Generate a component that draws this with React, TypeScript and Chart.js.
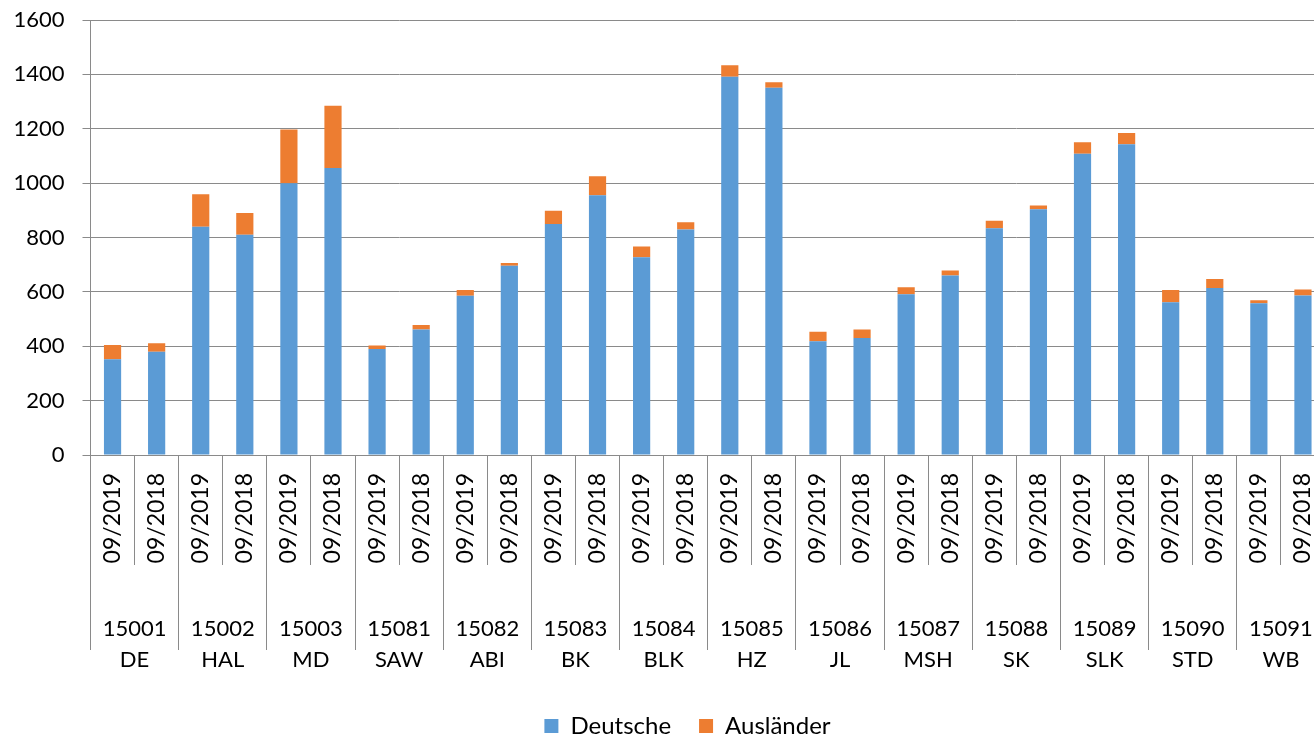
import React, { useEffect, useRef } from "react";
import { Chart, registerables } from "chart.js";

Chart.register(...registerables);

const periods = ["09/2019", "09/2018"];
const groupCodes = ["15001", "15002", "15003", "15081", "15082", "15083", "15084", "15085", "15086", "15087", "15088", "15089", "15090", "15091"];
const groupNames = ["DE", "HAL", "MD", "SAW", "ABI", "BK", "BLK", "HZ", "JL", "MSH", "SK", "SLK", "STD", "WB"];
const deutsche = [352, 380, 840, 810, 1000, 1056, 390, 462, 586, 696, 850, 955, 727, 829, 1391, 1351, 418, 430, 591, 660, 834, 904, 1108, 1143, 562, 614, 558, 587];
const auslaender = [53, 31, 119, 80, 197, 229, 13, 16, 21, 10, 48, 70, 40, 27, 43, 20, 35, 32, 26, 19, 28, 14, 42, 41, 45, 33, 11, 22];
const yMin = 0;
const yMax = 1600;
const yStep = 200;

const dateLabels = groupCodes.flatMap(() => periods);
const groupLabels = groupCodes.map((c, i) => [c, groupNames[i]]);

const FONT = "Lato, 'Open Sans', sans-serif";
const GRID = "#8a8a8a";

export default function App() {
  const ref = useRef<HTMLCanvasElement>(null);
  useEffect(() => {
    if (!ref.current) return;
    const chart = new Chart(ref.current, {
      type: "bar",
      data: {
        labels: dateLabels,
        datasets: [
          { label: "Deutsche", data: deutsche, backgroundColor: "#5B9BD5", borderWidth: 0, xAxisID: "x", yAxisID: "y" },
          { label: "Ausländer", data: auslaender, backgroundColor: "#ED7D31", borderWidth: 0, xAxisID: "x", yAxisID: "y" },
        ],
      },
      options: {
        responsive: false,
        animation: false,
        layout: { padding: { top: 20, left: 0, right: 0, bottom: 4 } },
        datasets: { bar: { categoryPercentage: 1, barPercentage: 0.39 } },
        plugins: {
          tooltip: { enabled: false },
          legend: {
            position: "bottom",
            labels: {
              boxWidth: 14,
              boxHeight: 14,
              padding: 28,
              color: "#000",
              font: { family: FONT, size: 24 },
            },
          },
        },
        scales: {
          y: {
            stacked: true,
            min: yMin,
            max: yMax,
            ticks: {
              stepSize: yStep,
              color: "#000",
              padding: 18,
              font: { family: FONT, size: 22 },
              callback: (v: any) => String(v),
            },
            grid: { color: GRID, tickLength: 8, lineWidth: 1 },
            border: { display: true, color: GRID },
            afterFit: (s: any) => { s.width = 90.5; s.paddingTop = 0; s.paddingBottom = 0; },
          },
          yR: {
            type: "linear",
            position: "right",
            display: true,
            ticks: { display: false },
            grid: { display: false, drawTicks: false },
            border: { display: false },
            afterFit: (s: any) => { s.width = 50; s.paddingTop = 0; s.paddingBottom = 0; },
          },
          x: {
            stacked: true,
            weight: 0,
            offset: true,
            ticks: {
              autoSkip: false,
              minRotation: 90,
              maxRotation: 90,
              padding: -92,
              color: "#000",
              font: { family: FONT, size: 23 },
            },
            grid: { offset: true, drawOnChartArea: false, drawTicks: true, tickLength: 110, color: GRID },
            border: { display: true, color: GRID },
            afterFit: (s: any) => { s.height = 110; },
          },
          x2: {
            type: "category",
            position: "bottom",
            weight: 1,
            offset: true,
            labels: groupLabels as any,
            ticks: {
              autoSkip: false,
              maxRotation: 0,
              minRotation: 0,
              padding: -36.5,
              color: "#000",
              font: { family: FONT, size: 22, lineHeight: 1.41 },
            },
            grid: { offset: true, drawOnChartArea: false, drawTicks: true, tickLength: 85, color: GRID },
            border: { display: false },
            afterFit: (s: any) => { s.height = 121; },
          },
        },
      },
    });
    return () => chart.destroy();
  }, []);
  return (
    <div style={{ position: "fixed", left: 0, top: 0, width: 1314, height: 737, overflow: "hidden", background: "#fff" }}>
      <canvas ref={ref} width={1375} height={752} style={{ display: "block", width: 1375, height: 752 }} />
    </div>
  );
}
